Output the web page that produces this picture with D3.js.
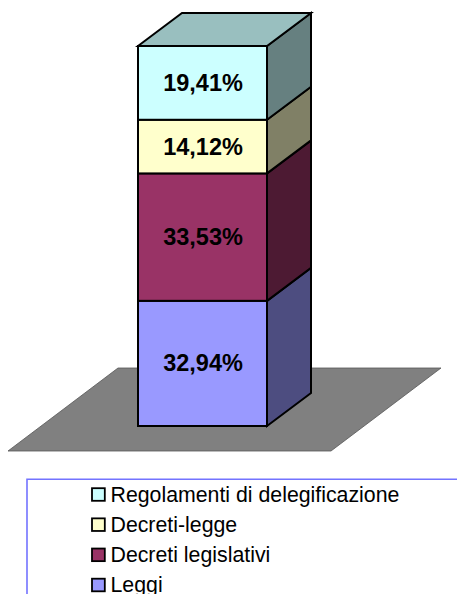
<!DOCTYPE html>
<html><head><meta charset="utf-8">
<script src="https://cdn.jsdelivr.net/npm/d3@7"></script>
<style>html,body{margin:0;padding:0;background:#fff}svg{display:block}text{font-family:"Liberation Sans",Arial,sans-serif}</style>
</head><body><svg id="c" width="457" height="594"></svg>
<script>
const categories = ["Leggi","Decreti legislativi","Decreti-legge","Regolamenti di delegificazione"];
const values = [32.94,33.53,14.12,19.41];
const labels = ["32,94%","33,53%","14,12%","19,41%"];
const colors = ["#9999FF","#993366","#FFFFCC","#CCFFFF"];

const svg = d3.select("#c");
const y = d3.scaleLinear().domain([0,100]).range([426,46]);
const x = d3.scaleBand().domain(["bar"]).range([138,267]);
const depthX = 44, depthY = -33;
const path = pts => "M"+pts.map(p=>p.join(",")).join("L")+"Z";
const shade = (c,k)=>{const r=d3.rgb(c);return d3.rgb(r.r*k,r.g*k,r.b*k).formatHex();};

// floor
svg.append("path").attr("d",path([[118,368],[441,368],[331,451],[8,451]]))
  .attr("fill","#808080").attr("stroke","#555").attr("stroke-width",0.8);

let acc=0;
const stack = values.map((v,i)=>{const s={i,y0:acc,y1:acc+v};acc+=v;return s;});
const x0=x("bar"), x1=x0+x.bandwidth();
const g = svg.append("g").attr("stroke","#000").attr("stroke-width",2).attr("stroke-linejoin","miter");
stack.forEach(s=>{
  const b=y(s.y0), t=y(s.y1), c=colors[s.i];
  g.append("path").attr("d",path([[x1,b],[x1+depthX,b+depthY],[x1+depthX,t+depthY],[x1,t]])).attr("fill",shade(c,0.5));
  g.append("rect").attr("x",x0).attr("y",t).attr("width",x1-x0).attr("height",b-t).attr("fill",c);
});
const last=stack[stack.length-1], tt=y(last.y1);
g.append("path").attr("d",path([[x0,tt],[x0+depthX,tt+depthY],[x1+depthX,tt+depthY],[x1,tt]])).attr("fill",shade(colors[3],0.75));

stack.forEach(s=>{
  svg.append("text").attr("x",(x0+x1)/2+0.5).attr("y",(y(s.y0)+y(s.y1))/2+8)
   .attr("text-anchor","middle").attr("font-size",23.5).attr("font-weight","bold").attr("fill","#000").text(labels[s.i]);
});

// legend
svg.append("path").attr("d","M457,479.3H27V594").attr("fill","none").attr("stroke","#7373FF").attr("stroke-width",1.6);
const ly = d3.scalePoint().domain(categories.slice().reverse()).range([494.5,585]);
categories.forEach((n,i)=>{
  const yy=ly(n);
  svg.append("rect").attr("x",92).attr("y",yy-6.3).attr("width",12.8).attr("height",12.6)
    .attr("fill",colors[i]).attr("stroke","#000").attr("stroke-width",1.8);
  svg.append("text").attr("x",110.5).attr("y",yy+7).attr("font-size",21.3).attr("fill","#000").text(n);
});
</script></body></html>
